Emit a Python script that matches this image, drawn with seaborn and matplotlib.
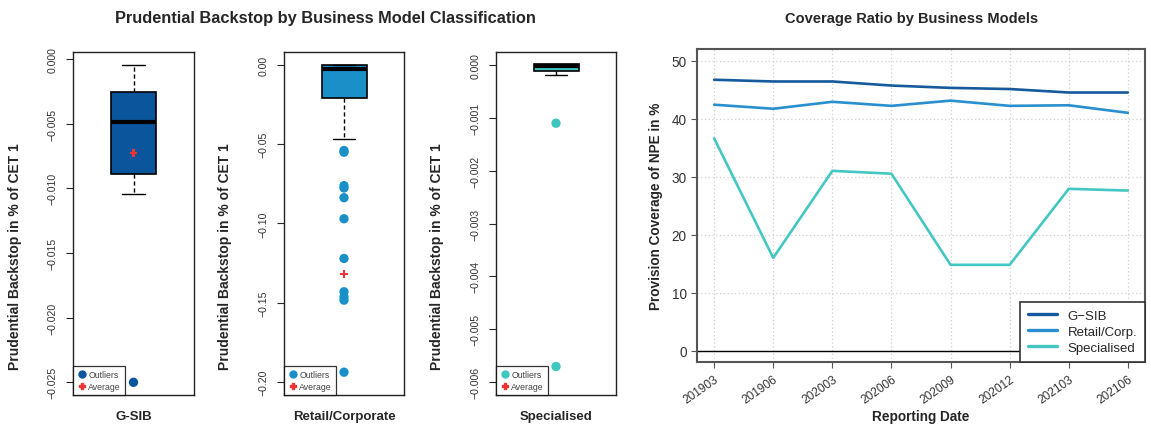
import numpy as np
import pandas as pd
import matplotlib
matplotlib.use("Agg")
import matplotlib.pyplot as plt
from matplotlib.lines import Line2D
import seaborn as sns

# ---- Box-plot summary statistics (Prudential Backstop in % of CET 1) ----
models = ["G-SIB", "Retail/Corporate", "Specialised"]
box_q3 = [-0.00253, -0.0003, 0.00002]
box_median = [-0.0049, -0.0025, -0.00002]
box_q1 = [-0.0089, -0.021, -0.00011]
whisker_hi = [-0.00044, 0.0, 0.0]
whisker_lo = [-0.01045, -0.0467, -0.00018]
averages = [-0.00728, -0.132, None]
outliers_gsib = [-0.0250]
outliers_retail = [-0.0540, -0.0551, -0.0762, -0.0777, -0.0838, -0.0971,
                   -0.1222, -0.1432, -0.1464, -0.1485, -0.1940]
outliers_spec = [-0.0011, -0.00571]
box_ticks = [
    [0.000, -0.005, -0.010, -0.015, -0.020, -0.025],
    [0.00, -0.05, -0.10, -0.15, -0.20],
    [0.000, -0.001, -0.002, -0.003, -0.004, -0.005, -0.006],
]
box_tick_fmt = ["{:.3f}", "{:.2f}", "{:.3f}"]
box_ylims = [(-0.02598, 0.00054), (-0.2084, 0.0082), (-0.00625, 0.00025)]

# ---- Coverage ratio time series ----
dates = ["201903", "201906", "202003", "202006", "202009", "202012", "202103", "202106"]
cov_gsib = [46.7, 46.4, 46.4, 45.7, 45.3, 45.1, 44.5, 44.5]
cov_retail = [42.4, 41.7, 42.9, 42.2, 43.1, 42.2, 42.3, 41.0]
cov_spec = [36.6, 16.0, 31.0, 30.5, 14.8, 14.8, 27.9, 27.6]
series_names = ["G\u2212SIB", "Retail/Corp.", "Specialised"]

c_gsib = "#0b559d"
c_retail = "#1b90c8"
c_spec = "#3ec6c0"
box_colors = [c_gsib, c_retail, c_spec]
line_colors = ["#155a9c", "#2a8fce", "#44c7c2"]

sns.set_style("ticks")
plt.rcParams["font.family"] = ["Liberation Sans", "DejaVu Sans"]
plt.rcParams["axes.unicode_minus"] = True

W, H = 1151, 427
fig = plt.figure(figsize=(W / 100, H / 100), dpi=100)

def frac(left, top, right, bottom):
    return [left / W, 1 - bottom / H, (right - left) / W, (bottom - top) / H]

box_rects = [(73, 53, 194, 396), (284, 53, 404, 396), (496, 53, 616, 396)]
ylabel_x = [15, 225, 437]
outlier_sets = [outliers_gsib, outliers_retail, outliers_spec]

for i, name in enumerate(models):
    ax = fig.add_axes(frac(*box_rects[i]))
    stats = [{
        "med": box_median[i], "q1": box_q1[i], "q3": box_q3[i],
        "whislo": whisker_lo[i], "whishi": whisker_hi[i], "fliers": [],
    }]
    ax.bxp(stats, positions=[0], widths=0.45, patch_artist=True, showfliers=False,
           boxprops=dict(facecolor=box_colors[i], edgecolor="black", linewidth=1.2),
           medianprops=dict(color="black", linewidth=3),
           whiskerprops=dict(color="black", linestyle=(0, (3, 2)), linewidth=1),
           capprops=dict(color="black", linewidth=1), capwidths=0.22)
    sns.scatterplot(x=[0] * len(outlier_sets[i]), y=outlier_sets[i], ax=ax,
                    color=box_colors[i], s=45, edgecolor="none", zorder=4)
    if averages[i] is not None:
        sns.scatterplot(x=[0], y=[averages[i]], ax=ax, color="#ee3333",
                        marker="P", s=30, edgecolor="none", zorder=5)
    ax.set_xlim(-0.6, 0.6)
    ax.set_ylim(*box_ylims[i])
    ax.set_xticks([])
    ax.set_yticks(box_ticks[i])
    ax.set_yticklabels([box_tick_fmt[i].format(t).replace("-", "\u2212") for t in box_ticks[i]],
                       rotation=90, va="center", fontsize=7.6, color="#333333")
    ax.tick_params(axis="y", length=5, width=0.8, pad=6)
    for sp in ax.spines.values():
        sp.set_visible(True)
        sp.set_color("#222222")
        sp.set_linewidth(1)
    ax.set_xlabel(name, fontsize=9.5, fontweight="bold", labelpad=11)
    fig.text(ylabel_x[i] / W, 1 - 257 / H, "Prudential Backstop in % of CET 1",
             rotation=90, ha="center", va="center", fontsize=10, fontweight="bold")
    handles = [
        Line2D([], [], marker="o", linestyle="none", color=box_colors[i], markersize=5),
        Line2D([], [], marker="P", linestyle="none", color="#ee3333", markersize=4.5),
    ]
    leg = ax.legend(handles, ["Outliers", "Average"], loc="lower left", fontsize=6.3,
                    frameon=True, fancybox=False, borderaxespad=0, handletextpad=0.1,
                    handlelength=1.2, labelspacing=0.35, borderpad=0.45)
    leg.get_frame().set_edgecolor("black")
    leg.get_frame().set_linewidth(0.9)
    for t in leg.get_texts():
        t.set_color("#444444")

fig.text(325 / W, 1 - 19 / H, "Prudential Backstop by Business Model Classification",
         ha="center", va="center", fontsize=11.8, fontweight="bold")

# ---- Coverage ratio line chart ----
ax4 = fig.add_axes(frac(697, 50, 1145, 363))
df = pd.DataFrame({
    "pos": list(range(len(dates))) * 3,
    "value": cov_gsib + cov_retail + cov_spec,
    "model": sum([[n] * len(dates) for n in series_names], []),
})
ax4.grid(True, color="#d0d0d0", linestyle=(0, (1, 2)), linewidth=0.9)
ax4.axhline(0, color="black", linewidth=1, zorder=2)
sns.lineplot(data=df, x="pos", y="value", hue="model", hue_order=series_names,
             palette=line_colors, linewidth=1.9, ax=ax4, legend=False, zorder=3)
ax4.set_xlim(-0.29, 7.29)
ax4.set_ylim(-1.95, 52)
ax4.set_yticks([0, 10, 20, 30, 40, 50])
ax4.set_yticklabels(["0", "10", "20", "30", "40", "50"], fontsize=9.8, color="#333333")
ax4.set_xticks(range(len(dates)))
ax4.set_xticklabels(dates, rotation=35, ha="right", rotation_mode="anchor",
                    fontsize=8.6, color="#333333")
ax4.tick_params(axis="both", length=4, width=0.8, color="#555555")
for sp in ax4.spines.values():
    sp.set_visible(True)
    sp.set_color("#555555")
    sp.set_linewidth(1.5)
ax4.set_xlabel("")
ax4.set_ylabel("Provision Coverage of NPE in %", fontsize=9.8, fontweight="bold", labelpad=6)
fig.text(921 / W, 1 - 417 / H, "Reporting Date", ha="center", va="center",
         fontsize=9.8, fontweight="bold")
fig.text(912 / W, 1 - 19 / H, "Coverage Ratio by Business Models", ha="center",
         va="center", fontsize=10.5, fontweight="bold")
lhandles = [Line2D([], [], color=c, linewidth=2.4) for c in line_colors]
leg4 = ax4.legend(lhandles, series_names, loc="lower right", fontsize=9.5, frameon=True,
                  fancybox=False, borderaxespad=0, handlelength=2.2, labelspacing=0.3,
                  borderpad=0.6, framealpha=1)
leg4.get_frame().set_edgecolor("#333333")
leg4.get_frame().set_linewidth(1.2)

fig.savefig("out.png", dpi=100)
